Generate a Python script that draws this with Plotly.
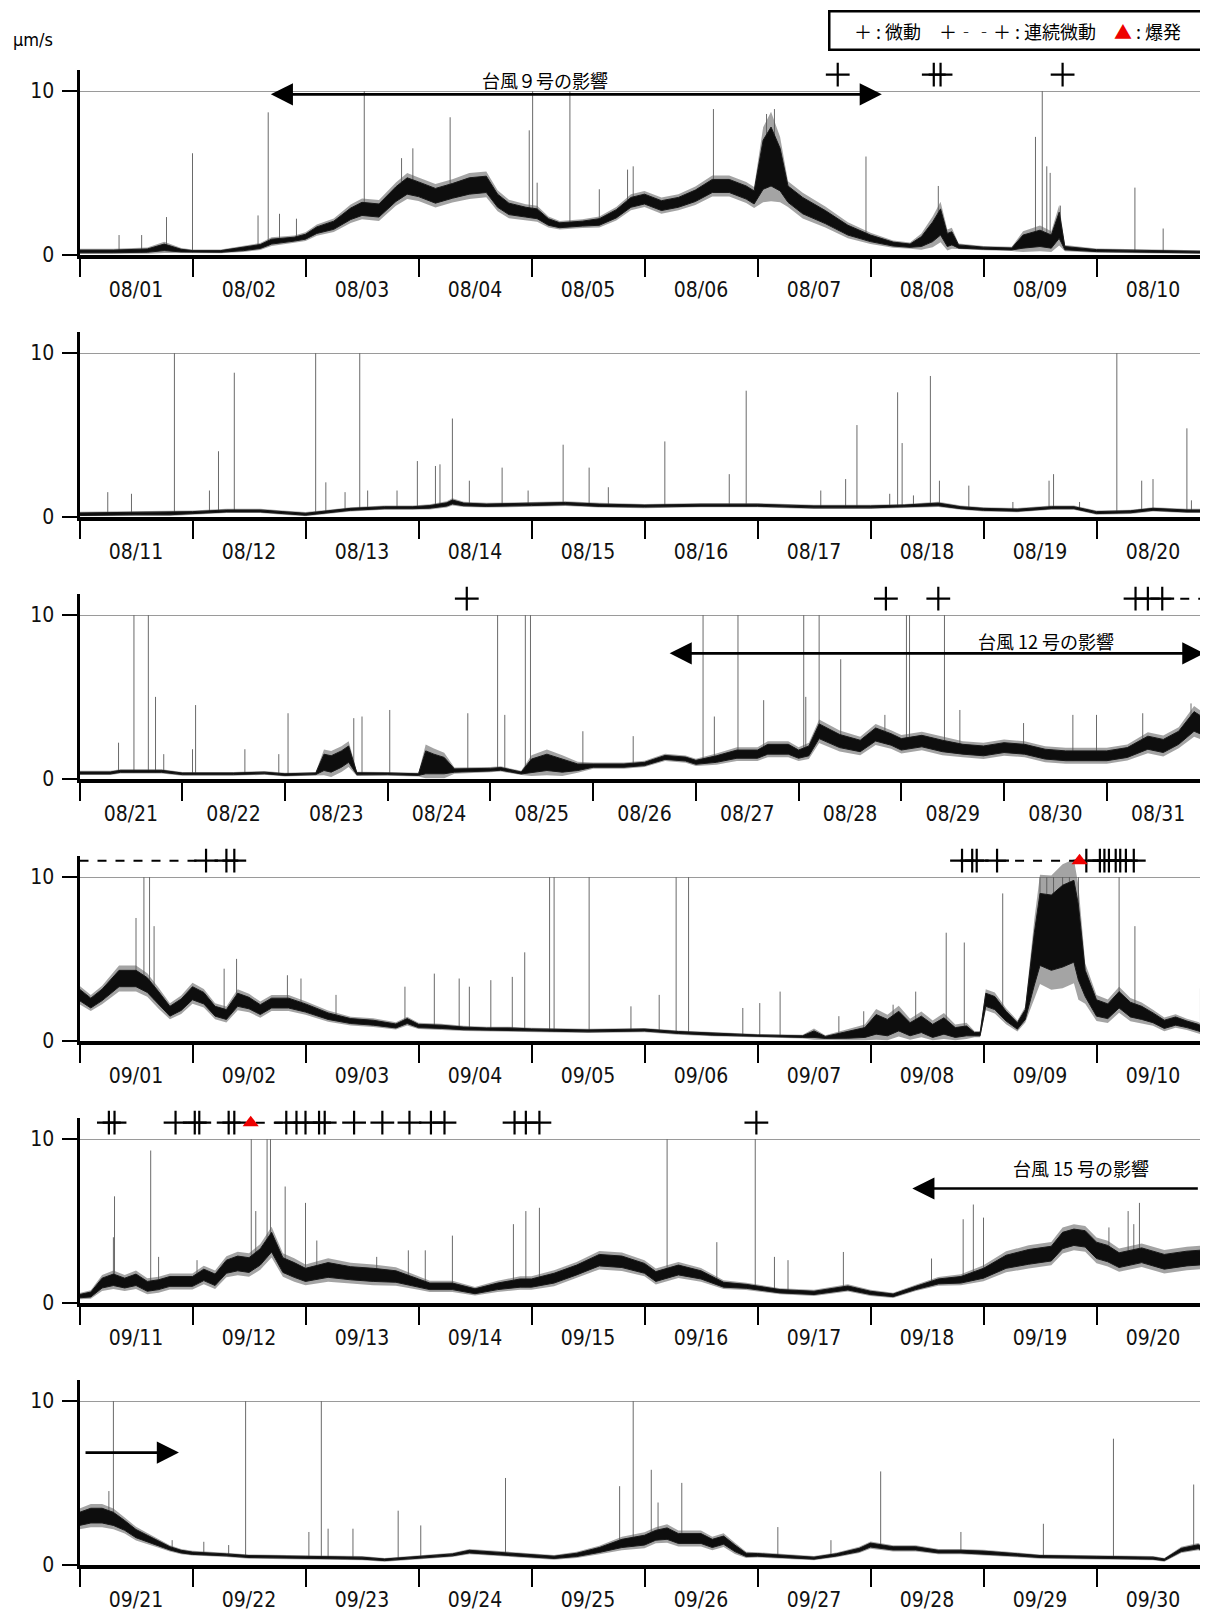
import numpy as np
import plotly.graph_objects as go

# ---------------- DATA ----------------
LABELS_1 = ["08/01", "08/02", "08/03", "08/04", "08/05", "08/06", "08/07", "08/08", "08/09", "08/10"]
LABELS_2 = ["08/11", "08/12", "08/13", "08/14", "08/15", "08/16", "08/17", "08/18", "08/19", "08/20"]
LABELS_3 = ["08/21", "08/22", "08/23", "08/24", "08/25", "08/26", "08/27", "08/28", "08/29", "08/30", "08/31"]
LABELS_4 = ["09/01", "09/02", "09/03", "09/04", "09/05", "09/06", "09/07", "09/08", "09/09", "09/10"]
LABELS_5 = ["09/11", "09/12", "09/13", "09/14", "09/15", "09/16", "09/17", "09/18", "09/19", "09/20"]
LABELS_6 = ["09/21", "09/22", "09/23", "09/24", "09/25", "09/26", "09/27", "09/28", "09/29", "09/30"]

# panel 1 : time (days from panel start), band centre, band half-width (um/s)
P1_T = [0.0, 0.3, 0.6, 0.75, 0.9, 1.0, 1.25, 1.45, 1.6, 1.7, 1.9, 2.0, 2.1, 2.25, 2.4, 2.5, 2.65, 2.8, 2.9,
        3.0, 3.15, 3.3, 3.45, 3.6, 3.7, 3.8, 3.95, 4.05, 4.15, 4.25, 4.45, 4.6, 4.75, 4.88, 5.0, 5.15, 5.3,
        5.45, 5.6, 5.75, 5.9, 5.97, 6.05, 6.12, 6.2, 6.27, 6.4, 6.6, 6.8, 7.0, 7.2, 7.35, 7.45, 7.55, 7.62,
        7.68, 7.72, 7.78, 8.0, 8.25, 8.35, 8.5, 8.6, 8.67, 8.72, 9.0, 9.5, 10.0]
P1_MID = [0.2, 0.2, 0.25, 0.45, 0.25, 0.2, 0.2, 0.35, 0.5, 0.8, 0.95, 1.1, 1.5, 1.8, 2.5, 2.8, 2.7, 3.7, 4.2,
          4.0, 3.6, 3.9, 4.2, 4.3, 3.3, 2.8, 2.6, 2.5, 2.0, 1.8, 1.9, 2.0, 2.5, 3.2, 3.4, 3.0, 3.2,
          3.6, 4.2, 4.2, 3.8, 3.5, 5.5, 6.0, 5.2, 3.7, 3.0, 2.3, 1.5, 1.0, 0.65, 0.55, 0.8, 1.4, 2.0,
          0.9, 1.0, 0.5, 0.4, 0.35, 0.8, 1.0, 0.8, 1.8, 0.4, 0.25, 0.2, 0.15]
P1_SPREAD = [0.08, 0.08, 0.1, 0.2, 0.08, 0.05, 0.05, 0.1, 0.12, 0.15, 0.12, 0.15, 0.2, 0.25, 0.35, 0.4, 0.4, 0.45, 0.5,
             0.45, 0.45, 0.45, 0.5, 0.5, 0.4, 0.35, 0.3, 0.3, 0.2, 0.15, 0.15, 0.2, 0.25, 0.3, 0.3, 0.3, 0.3,
             0.35, 0.4, 0.4, 0.4, 0.4, 1.5, 1.8, 1.3, 0.5, 0.5, 0.4, 0.3, 0.2, 0.12, 0.1, 0.3, 0.6, 0.8,
             0.4, 0.4, 0.1, 0.06, 0.06, 0.4, 0.5, 0.4, 0.8, 0.1, 0.06, 0.06, 0.05]
P1_SPIKE_T = [0.35, 0.55, 0.77, 1.0, 1.58, 1.67, 1.77, 1.92, 2.52, 2.85, 2.95, 3.28, 3.98, 4.01, 4.05, 4.34,
              4.6, 4.85, 4.9, 5.61, 6.08, 6.15, 6.96, 7.6, 8.46, 8.52, 8.56, 8.59, 8.68, 9.34, 9.59, 9.95]
P1_SPIKE_H = [1.2, 1.2, 2.3, 6.2, 2.4, 8.7, 2.5, 2.2, 10, 5.9, 6.5, 8.4, 7.6, 10, 4.4, 10,
              4.0, 5.2, 5.4, 8.9, 8.6, 8.9, 6.0, 4.2, 7.2, 10, 5.4, 5.0, 3.0, 4.1, 1.6, 1.0]
P1_TREMOR = [6.71, 7.56, 7.62, 8.70]
P1_CONT = []
P1_EXPLOSION = []

# panel 2
P2_T = [0.0, 0.5, 0.8, 1.0, 1.3, 1.6, 1.8, 2.0, 2.2, 2.4, 2.7, 2.95, 3.1, 3.25, 3.3, 3.4, 3.6, 4.0, 4.3,
        4.6, 5.0, 5.5, 6.0, 6.5, 7.0, 7.3, 7.6, 7.8, 8.0, 8.3, 8.6, 8.8, 9.0, 9.3, 9.5, 9.8, 10.0]
P2_MID = [0.15, 0.2, 0.2, 0.25, 0.35, 0.35, 0.25, 0.15, 0.3, 0.45, 0.55, 0.55, 0.6, 0.75, 0.9, 0.75, 0.7, 0.75, 0.8,
          0.7, 0.65, 0.7, 0.7, 0.6, 0.6, 0.65, 0.75, 0.55, 0.45, 0.4, 0.55, 0.55, 0.25, 0.3, 0.45, 0.35, 0.35]
P2_SPREAD = [0.08, 0.08, 0.08, 0.06, 0.06, 0.06, 0.06, 0.06, 0.06, 0.06, 0.06, 0.06, 0.08, 0.1, 0.12, 0.08, 0.07,
             0.07, 0.07, 0.07, 0.06, 0.06, 0.06, 0.06, 0.06, 0.06, 0.08, 0.06, 0.06, 0.06, 0.06, 0.06, 0.06,
             0.06, 0.06, 0.06, 0.06]
P2_SPIKE_T = [0.25, 0.46, 0.84, 1.15, 1.23, 1.37, 2.09, 2.18, 2.35, 2.48, 2.55, 2.81, 2.99, 3.15, 3.19, 3.3,
              3.45, 3.74, 3.97, 4.28, 4.51, 4.68, 5.18, 5.75, 5.9, 6.56, 6.78, 6.88, 7.17, 7.24, 7.28, 7.38,
              7.53, 7.61, 7.87, 8.26, 8.58, 8.62, 8.85, 9.18, 9.4, 9.5, 9.8, 9.84]
P2_SPIKE_H = [1.5, 1.4, 10, 1.6, 4.0, 8.8, 10, 2.1, 1.5, 10, 1.6, 1.6, 3.4, 3.1, 3.2, 6.0,
              2.2, 3.0, 1.6, 4.4, 3.0, 1.8, 4.6, 2.6, 7.7, 1.6, 2.3, 5.6, 1.4, 7.6, 4.5, 1.3,
              8.6, 2.2, 1.9, 0.9, 2.2, 2.6, 0.9, 10, 2.2, 2.3, 5.4, 1.0]
P2_TREMOR = []
P2_CONT = []
P2_EXPLOSION = []

# panel 3 (11 days)
P3_T = [0.0, 0.3, 0.4, 0.8, 1.0, 1.5, 1.8, 2.0, 2.3, 2.38, 2.45, 2.55, 2.62, 2.7, 3.0, 3.3, 3.37, 3.45, 3.55,
        3.65, 4.0, 4.1, 4.3, 4.4, 4.55, 4.7, 4.85, 5.0, 5.3, 5.5, 5.7, 5.9, 6.0, 6.2, 6.4, 6.6, 6.7, 6.9,
        7.0, 7.1, 7.2, 7.4, 7.6, 7.75, 7.9, 8.0, 8.2, 8.4, 8.6, 8.8, 9.0, 9.2, 9.4, 9.6, 9.8, 10.0, 10.2,
        10.4, 10.55, 10.7, 10.85, 11.0]
P3_MID = [0.35, 0.35, 0.45, 0.45, 0.3, 0.3, 0.35, 0.25, 0.3, 1.0, 0.9, 1.2, 1.5, 0.3, 0.3, 0.25, 1.0, 0.9, 0.8,
          0.5, 0.55, 0.6, 0.35, 0.8, 1.0, 0.8, 0.7, 0.8, 0.8, 0.9, 1.3, 1.2, 1.0, 1.2, 1.5, 1.5, 1.8, 1.8,
          1.5, 1.7, 2.9, 2.3, 2.0, 2.7, 2.4, 2.1, 2.3, 2.0, 1.8, 1.7, 1.9, 1.8, 1.5, 1.4, 1.4, 1.4, 1.6,
          2.2, 2.0, 2.5, 3.5, 3.0]
P3_SPREAD = [0.06, 0.06, 0.06, 0.06, 0.05, 0.05, 0.05, 0.05, 0.05, 0.5, 0.5, 0.5, 0.5, 0.06, 0.05, 0.05, 0.7, 0.6,
             0.5, 0.1, 0.08, 0.08, 0.06, 0.4, 0.5, 0.4, 0.2, 0.1, 0.1, 0.1, 0.12, 0.12, 0.12, 0.2, 0.25, 0.25,
             0.3, 0.3, 0.25, 0.3, 0.45, 0.4, 0.35, 0.4, 0.35, 0.35, 0.35, 0.35, 0.3, 0.3, 0.3, 0.3, 0.3, 0.3,
             0.3, 0.3, 0.3, 0.4, 0.4, 0.4, 0.6, 0.5]
P3_SPIKE_T = [0.38, 0.53, 0.67, 0.74, 0.82, 1.1, 1.13, 1.61, 1.94, 2.03, 2.67, 2.75, 3.02, 3.78, 4.07, 4.14,
              4.34, 4.39, 4.9, 5.39, 6.07, 6.18, 6.41, 6.66, 7.05, 7.07, 7.2, 7.41, 7.84, 8.05, 8.08, 8.42,
              8.57, 9.19, 9.67, 9.9, 10.35, 10.82]
P3_SPIKE_H = [2.2, 10, 10, 5.0, 1.5, 1.8, 4.5, 1.8, 1.5, 4.0, 3.7, 3.8, 4.2, 4.0, 10, 3.9,
              10, 10, 2.9, 2.6, 10, 3.8, 10, 4.8, 10, 5.0, 10, 7.3, 3.9, 10, 10, 10,
              4.2, 3.4, 3.9, 3.9, 4.0, 4.6]
P3_TREMOR = [3.77, 7.85, 8.36, 10.28, 10.40, 10.54]
P3_CONT = [[10.54, 11.0]]
P3_EXPLOSION = []

# panel 4
P4_T = [0.0, 0.1, 0.2, 0.35, 0.5, 0.6, 0.7, 0.8, 0.9, 1.0, 1.1, 1.2, 1.3, 1.4, 1.5, 1.6, 1.7, 1.85, 2.0,
        2.2, 2.4, 2.6, 2.8, 2.9, 3.0, 3.2, 3.4, 3.6, 3.8, 4.0, 4.5, 5.0, 5.3, 5.6, 6.0, 6.4, 6.5, 6.6,
        6.8, 6.95, 7.05, 7.15, 7.25, 7.35, 7.45, 7.55, 7.65, 7.75, 7.85, 7.92, 7.97, 8.02, 8.1, 8.2, 8.3,
        8.37, 8.45, 8.5, 8.6, 8.7, 8.8, 8.84, 8.9, 9.0, 9.1, 9.2, 9.3, 9.4, 9.5, 9.6, 9.7, 9.8, 9.9, 10.0]
P4_MID = [2.8, 2.3, 2.8, 3.8, 3.8, 3.4, 2.6, 1.8, 2.2, 2.9, 2.6, 1.8, 1.6, 2.5, 2.3, 1.9, 2.3, 2.3, 2.0,
          1.5, 1.2, 1.1, 0.9, 1.2, 0.9, 0.85, 0.75, 0.7, 0.7, 0.65, 0.6, 0.65, 0.5, 0.4, 0.3, 0.25, 0.4, 0.2,
          0.35, 0.5, 1.0, 0.8, 1.2, 0.7, 1.0, 0.6, 0.9, 0.5, 0.6, 0.4, 0.4, 2.5, 2.3, 1.5, 0.9,
          1.6, 5.0, 6.8, 6.6, 7.0, 7.3, 6.0, 3.5, 2.0, 1.8, 2.5, 1.9, 1.7, 1.4, 1.0, 1.2, 1.0, 0.8, 0.5]
P4_SPREAD = [0.35, 0.3, 0.35, 0.5, 0.5, 0.45, 0.4, 0.3, 0.35, 0.4, 0.35, 0.3, 0.3, 0.4, 0.35, 0.3, 0.3, 0.3, 0.25,
             0.2, 0.15, 0.15, 0.12, 0.15, 0.1, 0.1, 0.08, 0.08, 0.08, 0.07, 0.06, 0.06, 0.06, 0.06, 0.05, 0.05,
             0.2, 0.06, 0.2, 0.3, 0.6, 0.5, 0.6, 0.4, 0.5, 0.4, 0.5, 0.3, 0.3, 0.1, 0.1, 0.4, 0.4, 0.3, 0.2,
             0.3, 1.6, 2.2, 2.3, 2.5, 2.5, 2.3, 0.8, 0.5, 0.45, 0.5, 0.45, 0.4, 0.3, 0.25, 0.25, 0.2, 0.2, 0.15]
P4_SPIKE_T = [0.5, 0.57, 0.62, 0.66, 1.28, 1.39, 1.84, 1.96, 2.27, 2.88, 3.14, 3.36, 3.45, 3.64, 3.83, 3.94,
              4.16, 4.2, 4.51, 4.88, 5.13, 5.28, 5.39, 5.87, 6.02, 6.2, 6.72, 6.94, 7.2, 7.4, 7.67, 7.83,
              8.17, 8.5, 8.56, 8.62, 8.7, 8.76, 8.84, 9.2, 9.34, 9.92]
P4_SPIKE_H = [7.5, 10, 10, 7.0, 4.4, 5.0, 4.0, 3.8, 2.8, 3.3, 4.1, 3.8, 3.3, 3.7, 3.9, 5.4,
              10, 10, 10, 2.1, 2.8, 10, 10, 2.0, 2.3, 3.0, 1.5, 1.8, 2.2, 3.0, 6.6, 6.0,
              9.0, 10, 10, 10, 10, 10, 10, 10, 7.0, 3.2]
P4_TREMOR = [1.12, 1.30, 1.37, 7.81, 7.90, 7.94, 8.12, 8.91, 9.03, 9.07, 9.11, 9.17, 9.21, 9.26, 9.33]
P4_CONT = [[0.0, 1.12], [8.12, 8.85]]
P4_EXPLOSION = [8.85]

# panel 5
P5_T = [0.0, 0.1, 0.2, 0.3, 0.4, 0.5, 0.6, 0.7, 0.8, 1.0, 1.1, 1.2, 1.3, 1.4, 1.5, 1.6, 1.7, 1.8, 1.9, 2.0,
        2.2, 2.4, 2.6, 2.8, 3.0, 3.1, 3.3, 3.5, 3.7, 3.9, 4.0, 4.2, 4.4, 4.6, 4.8, 5.0, 5.1, 5.3, 5.5, 5.7,
        5.9, 6.0, 6.2, 6.5, 6.8, 7.0, 7.2, 7.4, 7.6, 7.8, 8.0, 8.2, 8.4, 8.6, 8.7, 8.8, 8.9, 9.0, 9.1, 9.2,
        9.4, 9.6, 9.8, 10.0]
P5_MID = [0.4, 0.5, 1.2, 1.4, 1.2, 1.4, 1.0, 1.1, 1.3, 1.3, 1.7, 1.4, 2.2, 2.4, 2.3, 2.8, 3.7, 2.3, 2.0, 1.7,
          2.0, 1.8, 1.7, 1.6, 1.2, 1.0, 1.0, 0.7, 1.0, 1.2, 1.2, 1.5, 2.0, 2.6, 2.5, 2.1, 1.6, 2.0, 1.7, 1.1,
          1.0, 0.9, 0.7, 0.6, 0.9, 0.6, 0.45, 0.9, 1.3, 1.4, 1.8, 2.5, 2.8, 3.0, 3.8, 4.0, 3.9, 3.2, 3.0, 2.6,
          2.9, 2.5, 2.7, 2.8]
P5_SPREAD = [0.1, 0.15, 0.3, 0.35, 0.3, 0.35, 0.3, 0.3, 0.3, 0.3, 0.35, 0.35, 0.4, 0.45, 0.45, 0.5, 0.6, 0.45,
             0.45, 0.4, 0.45, 0.4, 0.4, 0.35, 0.25, 0.2, 0.2, 0.15, 0.2, 0.25, 0.25, 0.3, 0.3, 0.35, 0.35, 0.3,
             0.3, 0.3, 0.25, 0.15, 0.12, 0.12, 0.1, 0.1, 0.12, 0.1, 0.08, 0.1, 0.15, 0.2, 0.3, 0.4, 0.45, 0.45,
             0.5, 0.5, 0.5, 0.5, 0.5, 0.45, 0.45, 0.45, 0.45, 0.45]
P5_SPIKE_T = [0.3, 0.31, 0.63, 0.7, 1.04, 1.52, 1.56, 1.66, 1.69, 1.82, 2.0, 2.1, 2.63, 2.91, 3.06, 3.3,
              3.84, 3.95, 4.07, 5.2, 5.64, 5.98, 6.15, 6.27, 6.76, 7.54, 7.82, 7.91, 8.0, 9.11, 9.28, 9.33, 9.38]
P5_SPIKE_H = [4.0, 6.5, 9.3, 2.8, 2.6, 10, 5.6, 10, 10, 7.1, 6.1, 3.8, 2.8, 3.2, 3.2, 4.1,
              4.8, 5.6, 5.8, 10, 3.7, 10, 2.8, 2.6, 3.1, 2.7, 5.1, 6.0, 5.2, 4.6, 5.6, 4.8, 6.1]
P5_TREMOR = [0.26, 0.31, 0.85, 1.02, 1.06, 1.32, 1.37, 1.83, 1.92, 2.00, 2.12, 2.17, 2.43, 2.68, 2.92,
             3.11, 3.23, 3.85, 3.95, 4.07, 5.99]
P5_CONT = [[1.56, 1.83]]
P5_EXPLOSION = [1.515]

# panel 6
P6_T = [0.0, 0.1, 0.2, 0.3, 0.4, 0.5, 0.6, 0.7, 0.8, 0.9, 1.0, 1.3, 1.5, 2.0, 2.5, 2.7, 3.0, 3.3, 3.45, 3.7,
        4.0, 4.2, 4.4, 4.6, 4.8, 5.0, 5.1, 5.2, 5.3, 5.5, 5.6, 5.7, 5.8, 5.9, 6.0, 6.3, 6.5, 6.7, 6.9, 7.0,
        7.2, 7.4, 7.6, 7.8, 8.0, 8.3, 8.5, 9.0, 9.5, 9.6, 9.75, 9.9, 10.0]
P6_MID = [2.8, 3.0, 3.0, 2.8, 2.4, 1.9, 1.6, 1.3, 1.0, 0.8, 0.7, 0.6, 0.5, 0.45, 0.4, 0.3, 0.45, 0.6, 0.8, 0.7,
          0.55, 0.45, 0.6, 0.9, 1.3, 1.5, 1.8, 1.9, 1.6, 1.6, 1.3, 1.5, 1.0, 0.6, 0.6, 0.5, 0.4, 0.6, 0.9, 1.2,
          1.0, 1.0, 0.8, 0.8, 0.75, 0.6, 0.5, 0.45, 0.4, 0.3, 0.9, 1.1, 0.8]
P6_SPREAD = [0.4, 0.45, 0.45, 0.4, 0.3, 0.25, 0.2, 0.15, 0.1, 0.08, 0.07, 0.06, 0.06, 0.06, 0.06, 0.05, 0.06,
             0.06, 0.08, 0.07, 0.07, 0.07, 0.1, 0.15, 0.25, 0.3, 0.3, 0.35, 0.3, 0.3, 0.25, 0.25, 0.2, 0.1,
             0.08, 0.07, 0.06, 0.07, 0.1, 0.12, 0.1, 0.1, 0.08, 0.08, 0.08, 0.07, 0.06, 0.06, 0.06, 0.05, 0.1,
             0.12, 0.1]
P6_SPIKE_T = [0.26, 0.3, 0.82, 1.1, 1.32, 1.47, 2.03, 2.14, 2.2, 2.42, 2.82, 3.02, 3.77, 4.78, 4.9, 5.06,
              5.12, 5.33, 6.18, 6.65, 7.09, 7.8, 8.53, 9.15, 9.86]
P6_SPIKE_H = [4.5, 10, 1.5, 1.4, 1.2, 10, 2.0, 10, 2.2, 2.2, 3.3, 2.4, 5.3, 4.8, 10, 5.8,
              3.8, 5.0, 2.3, 1.5, 5.7, 2.0, 2.5, 7.7, 4.9]
P6_TREMOR = []
P6_CONT = []
P6_EXPLOSION = []

PANELS = [
    dict(labels=LABELS_1, t=P1_T, mid=P1_MID, sp=P1_SPREAD, st=P1_SPIKE_T, sh=P1_SPIKE_H,
         tr=P1_TREMOR, cont=P1_CONT, ex=P1_EXPLOSION),
    dict(labels=LABELS_2, t=P2_T, mid=P2_MID, sp=P2_SPREAD, st=P2_SPIKE_T, sh=P2_SPIKE_H,
         tr=P2_TREMOR, cont=P2_CONT, ex=P2_EXPLOSION),
    dict(labels=LABELS_3, t=P3_T, mid=P3_MID, sp=P3_SPREAD, st=P3_SPIKE_T, sh=P3_SPIKE_H,
         tr=P3_TREMOR, cont=P3_CONT, ex=P3_EXPLOSION),
    dict(labels=LABELS_4, t=P4_T, mid=P4_MID, sp=P4_SPREAD, st=P4_SPIKE_T, sh=P4_SPIKE_H,
         tr=P4_TREMOR, cont=P4_CONT, ex=P4_EXPLOSION),
    dict(labels=LABELS_5, t=P5_T, mid=P5_MID, sp=P5_SPREAD, st=P5_SPIKE_T, sh=P5_SPIKE_H,
         tr=P5_TREMOR, cont=P5_CONT, ex=P5_EXPLOSION),
    dict(labels=LABELS_6, t=P6_T, mid=P6_MID, sp=P6_SPREAD, st=P6_SPIKE_T, sh=P6_SPIKE_H,
         tr=P6_TREMOR, cont=P6_CONT, ex=P6_EXPLOSION),
]

# ---------------- LAYOUT CONSTANTS ----------------
# the page adds an 8 px body margin, so the figure is 8 px smaller and all
# positions (measured on the 1208 x 1611 page) are shifted by 8 px
OFF = 8
W, H = 1208 - OFF, 1611 - OFF
LEFT_PX = 79.5 - OFF
DAY_FRAC_VISIBLE = (W - LEFT_PX) / 1130.0
Y_TOP = 11.3
PANEL_H_PX = 184.9
ZERO_PX = [254.7 - OFF + 262.0 * k for k in range(6)]
MARK_Y = 11.0

NUM_FONT = "DejaVu Sans Condensed, Liberation Sans Narrow, Arial Narrow, sans-serif"
JP_FONT = "Noto Sans CJK JP, Noto Sans CJK SC, sans-serif"

fig = go.Figure()
layout_axes = {}
shapes = []

for k, p in enumerate(PANELS):
    sfx = "" if k == 0 else str(k + 1)
    xa, ya = "x" + sfx, "y" + sfx
    ndays = len(p["labels"])
    t = np.array(p["t"], float)
    mid = np.array(p["mid"], float)
    sp = np.array(p["sp"], float)
    lo = np.clip(mid - sp, 0.03, None)
    hi = mid + sp
    lo2 = np.clip(mid - 1.5 * sp - 0.04, 0.02, None)
    hi2 = mid + 1.5 * sp + 0.04

    # spikes: thin vertical lines rising from the band
    sx, sy = [], []
    for ts, hs in zip(p["st"], p["sh"]):
        base = float(np.interp(ts, t, lo))
        sx += [ts, ts, None]
        sy += [base, hs, None]
    fig.add_trace(go.Scatter(x=sx, y=sy, mode="lines", line=dict(color="#6a6a6a", width=1),
                             xaxis=xa, yaxis=ya, hoverinfo="skip"))

    # faint outer fringe of the noisy trace
    fig.add_trace(go.Scatter(x=np.concatenate([t, t[::-1]]), y=np.concatenate([hi2, lo2[::-1]]),
                             mode="lines", fill="toself", fillcolor="rgba(90,90,90,0.55)",
                             line=dict(width=0), xaxis=xa, yaxis=ya, hoverinfo="skip"))
    # dense amplitude band
    fig.add_trace(go.Scatter(x=np.concatenate([t, t[::-1]]), y=np.concatenate([hi, lo[::-1]]),
                             mode="lines", fill="toself", fillcolor="#0d0d0d",
                             line=dict(color="#1a1a1a", width=1),
                             xaxis=xa, yaxis=ya, hoverinfo="skip"))

    # continuous tremor dashes
    for a, b in p["cont"]:
        fig.add_trace(go.Scatter(x=[a, b], y=[MARK_Y, MARK_Y], mode="lines",
                                 line=dict(color="black", width=2, dash="dash"),
                                 xaxis=xa, yaxis=ya, hoverinfo="skip", cliponaxis=False))
    # tremor markers
    if p["tr"]:
        fig.add_trace(go.Scatter(x=p["tr"], y=[MARK_Y] * len(p["tr"]), mode="markers",
                                 marker=dict(symbol="cross-thin", size=17,
                                             line=dict(color="black", width=2.2)),
                                 xaxis=xa, yaxis=ya, hoverinfo="skip", cliponaxis=False))
    # explosions
    if p["ex"]:
        fig.add_trace(go.Scatter(x=p["ex"], y=[MARK_Y] * len(p["ex"]), mode="markers",
                                 marker=dict(symbol="triangle-up", size=14, color="#ee0000",
                                             line=dict(width=0)),
                                 xaxis=xa, yaxis=ya, hoverinfo="skip", cliponaxis=False))

    # faint frame line at the right edge of each panel
    shapes.append(dict(type="line", xref=xa + " domain", yref=ya, x0=0.9993, x1=0.9993,
                       y0=0, y1=Y_TOP, line=dict(color="#808080", width=1.5), layer="below"))

    z = ZERO_PX[k]
    dom = [1 - z / H, 1 - (z - PANEL_H_PX) / H]
    layout_axes["xaxis" + sfx] = dict(
        domain=[LEFT_PX / W, 1.0], anchor=ya, range=[0, ndays * DAY_FRAC_VISIBLE], automargin=False,
        tickmode="array", tickvals=[i + 0.5 for i in range(ndays)], ticktext=p["labels"],
        ticks="", showgrid=False, zeroline=False, showline=True, linewidth=4, linecolor="black",
        tickfont=dict(family=NUM_FONT, size=21, color="#111"), ticklabelstandoff=13,
        minor=dict(tickmode="array", tickvals=list(range(ndays + 1)), ticks="outside",
                   ticklen=18, tickwidth=2, tickcolor="black", showgrid=False),
        fixedrange=True,
    )
    layout_axes["yaxis" + sfx] = dict(
        domain=dom, anchor=xa, range=[0, Y_TOP], tickmode="array", tickvals=[0, 10], automargin=False,
        ticktext=["0", "10"], ticks="outside", ticklen=15, tickwidth=2, tickcolor="black",
        showline=True, linewidth=3, linecolor="black", showgrid=True, gridcolor="#9a9a9a",
        gridwidth=1, zeroline=False, tickfont=dict(family=NUM_FONT, size=21, color="#111"),
        ticklabelstandoff=3, fixedrange=True,
    )

annotations = []


def arrow(sfx, x_head, x_tail, yv, both=False):
    annotations.append(dict(
        xref="x" + sfx, yref="y" + sfx, x=x_head, y=yv, axref="x" + sfx, ayref="y" + sfx,
        ax=x_tail, ay=yv, text="", showarrow=True, arrowhead=2, arrowsize=1.7, arrowwidth=2.6,
        arrowcolor="black", arrowside="end+start" if both else "end", standoff=0, startstandoff=0))


def label(sfx, xv, yv, txt):
    annotations.append(dict(xref="x" + sfx, yref="y" + sfx, x=xv, y=yv, text=txt, showarrow=False,
                            xanchor="center", yanchor="middle",
                            font=dict(family=JP_FONT, size=18, color="black")))


# typhoon influence arrows & labels
arrow("", 7.10, 1.68, 9.8, both=True)
label("", 4.12, 10.68, "台風９号の影響")
arrow("3", 10.95, 5.73, 7.66, both=True)
label("3", 9.41, 8.42, "台風 12 号の影響")
arrow("5", 7.37, 9.91, 6.98)
label("5", 8.86, 8.23, "台風 15 号の影響")
arrow("6", 0.88, 0.04, 6.85)

# unit label
annotations.append(dict(xref="paper", yref="paper", x=(33 - OFF) / W, y=1 - (39 - OFF) / H, text="µm/s",
                        xanchor="center", yanchor="middle",
                        showarrow=False, font=dict(family=NUM_FONT, size=18, color="black")))
# symbol key box
annotations.append(dict(
    xref="paper", yref="paper", x=(1017 - OFF) / W, y=1 - (30.5 - OFF) / H, xanchor="center", yanchor="middle",
    text="＋ : 微動　＋‐‐＋ : 連続微動　<span style='color:#ee0000'>▲</span> : 爆発",
    showarrow=False, font=dict(family=JP_FONT, size=18, color="black"),
    bordercolor="black", borderwidth=2.5, borderpad=3, bgcolor="white", width=368, height=30))

fig.update_layout(
    width=W, height=H, margin=dict(l=0, r=0, t=0, b=0, pad=0), showlegend=False,
    paper_bgcolor="white", plot_bgcolor="white", annotations=annotations, shapes=shapes,
    **layout_axes)

fig.write_html("out.html")
